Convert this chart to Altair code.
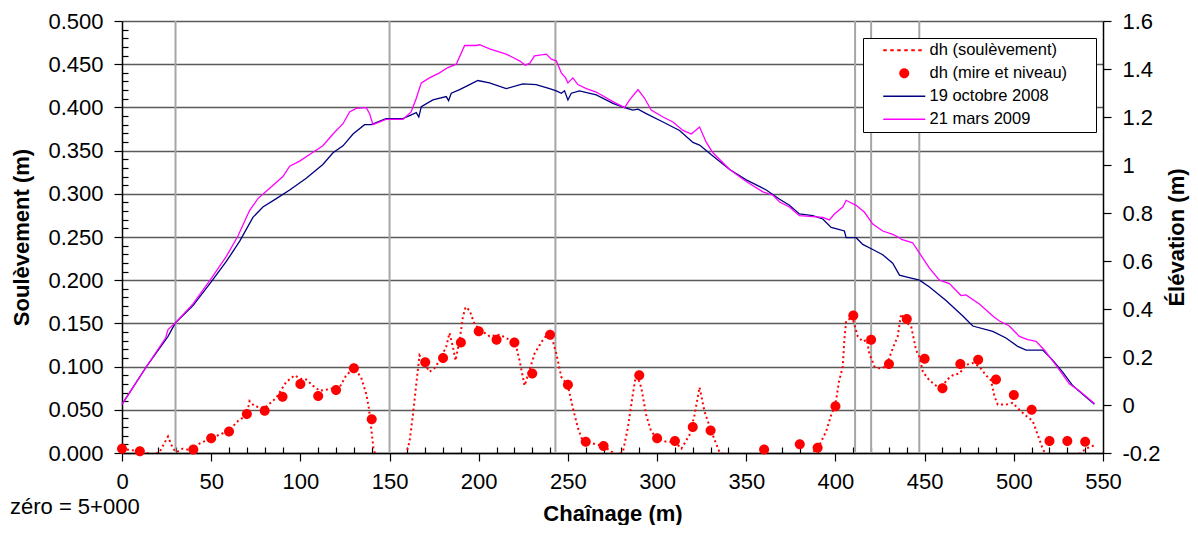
import altair as alt
import pandas as pd

FONT = "Liberation Sans"

# ---- data ----
# Elevation profile, 19 octobre 2008 (right axis)
oct_x = [0, 13.6, 25.8, 30, 39.8, 50, 58.5, 66, 73.4, 79, 86.5, 94, 103.3, 112.6, 118.3,
         123.9, 129.5, 136, 139.7, 148, 157.5, 165, 166.4, 167.8, 174.3, 181.8, 183.1, 184.6,
         189.3, 194.9, 199.5, 206, 215.4, 224.8, 232.2, 239.7, 243.5, 246.3, 248.1, 250,
         251.9, 256.5, 265.9, 275.2, 281.8, 286.4, 289.3, 293.9, 303.3, 312.6, 320.1, 323.8,
         331.3, 340.7, 350, 361.2, 368.7, 374.2, 379.8, 387.3, 392.9, 397.6, 401.3, 405, 406,
         411.6, 415.3, 420.9, 426.5, 432.1, 435.9, 439.6, 447.1, 452.7, 462, 471.4, 477,
         488.2, 495.6, 502.2, 506.9, 516.2, 521.8, 527.4, 533, 538.6, 545.2]
oct_y = [0.003, 0.159, 0.286, 0.343, 0.414, 0.513, 0.598, 0.683, 0.782, 0.825, 0.860, 0.896,
         0.945, 1.002, 1.051, 1.080, 1.129, 1.168, 1.168, 1.193, 1.193, 1.218, 1.200, 1.243,
         1.271, 1.285, 1.268, 1.299, 1.314, 1.335, 1.352, 1.342, 1.318, 1.338, 1.335, 1.318,
         1.309, 1.299, 1.309, 1.271, 1.299, 1.309, 1.292, 1.257, 1.239, 1.229, 1.233, 1.214,
         1.179, 1.144, 1.094, 1.083, 1.037, 0.981, 0.938, 0.896, 0.857, 0.832, 0.796, 0.789,
         0.775, 0.740, 0.733, 0.725, 0.697, 0.697, 0.669, 0.648, 0.626, 0.591, 0.541, 0.534,
         0.520, 0.492, 0.435, 0.371, 0.329, 0.307, 0.279, 0.244, 0.229, 0.229, 0.187, 0.137,
         0.081, 0.045, 0.003]

# Elevation profile, 21 mars 2009 (right axis)
mar_x = [0, 13.6, 24.5, 25.8, 30, 39.8, 50, 58.5, 65, 71.5, 76.2, 82.8, 90.2, 94, 99.6, 105.2,
         112.6, 118.3, 123.9, 127.6, 131.3, 137, 138.8, 140.7, 148, 157.5, 162.1, 165, 167.8,
         172.4, 178, 182.7, 187.4, 192.1, 198.6, 200.5, 206.1, 215.4, 219.2, 222.9, 226.1,
         228.5, 231.3, 237.9, 240.7, 243.5, 246.3, 248.7, 250, 252.8, 255.6, 260.3, 265.9,
         275.2, 281.8, 284.6, 289.3, 293, 296.7, 303.3, 308.9, 314.5, 319.2, 323.8, 327.6,
         331.3, 340.7, 350, 359.3, 365, 368.7, 374.2, 379.8, 387.3, 392.9, 396.6, 399.4,
         404.1, 406, 407.8, 411.6, 416.3, 420.9, 426.5, 432.1, 435.9, 437, 443.3, 447.1,
         452.7, 458.3, 463.9, 470.4, 473.2, 480.7, 488.2, 491.9, 497.5, 503.1, 507.8, 512.5,
         517.1, 523.6, 531.1, 536.7, 545.2]
mar_y = [0.003, 0.159, 0.28, 0.314, 0.343, 0.421, 0.527, 0.619, 0.704, 0.810, 0.860, 0.903,
         0.952, 0.995, 1.016, 1.044, 1.080, 1.129, 1.172, 1.221, 1.236, 1.239, 1.214, 1.168,
         1.190, 1.190, 1.221, 1.278, 1.342, 1.363, 1.384, 1.406, 1.420, 1.498, 1.498, 1.501,
         1.484, 1.462, 1.448, 1.434, 1.416, 1.423, 1.455, 1.462, 1.441, 1.434, 1.384, 1.363,
         1.342, 1.363, 1.335, 1.318, 1.304, 1.264, 1.239, 1.271, 1.314, 1.278, 1.229, 1.200,
         1.179, 1.144, 1.129, 1.158, 1.094, 1.051, 0.981, 0.931, 0.888, 0.874, 0.846, 0.825,
         0.789, 0.785, 0.782, 0.771, 0.796, 0.825, 0.853, 0.846, 0.832, 0.803, 0.754, 0.725,
         0.711, 0.697, 0.690, 0.676, 0.633, 0.570, 0.520, 0.506, 0.456, 0.459, 0.421, 0.371,
         0.350, 0.329, 0.286, 0.272, 0.265, 0.229, 0.166, 0.088, 0.059, 0.006]

# dh (soulèvement), dotted line (left axis)
dh_x = [0, 10, 17.4, 21, 25.8, 28.6, 30.5, 34, 39, 43.5, 50, 60, 65, 70, 71.5, 74.4, 80, 86.5,
        92, 96.8, 100, 103.3, 107, 110.8, 116.4, 122, 125.7, 130, 134, 137, 138.4, 139.7, 141,
        142.5, 146, 152, 157, 159.3, 161.2, 163.1, 165, 166.8, 168.7, 172.4, 175.2, 178, 181.8,
        183.6, 185.5, 187, 189.3, 191.1, 192.6, 194.9, 197.7, 200.5, 206.1, 211.7, 217.3, 221,
        222.9, 225.7, 228.5, 231.3, 236, 240, 243.5, 246.3, 250, 252.8, 255.6, 258.4, 264, 270,
        273.4, 277.1, 280.8, 283.6, 286.4, 288.3, 291.1, 293.9, 296.7, 300, 305.1, 310, 313.6,
        318.2, 321, 323.8, 326.6, 330.4, 335, 338.8, 345, 355, 365, 372, 378, 385.4, 391,
        394.8, 397.6, 400, 401.9, 404.1, 405, 406, 407.8, 410, 412.5, 415.3, 417.6, 419, 421.9,
        424.7, 428.4, 432.1, 434.9, 436.8, 439.6, 442.4, 445.2, 447.1, 449, 452.7, 456.4,
        459.2, 462, 465.8, 469.5, 473.2, 477, 480.7, 484.4, 487.2, 489.1, 491, 495.6, 499.4,
        503.1, 506.9, 510.6, 513.4, 516.2, 518.1, 525, 532, 536.7, 540.5, 545.2]
dh_y = [0.005, 0.002, -0.002, 0.001, 0.019, 0.005, 0.001, 0.005, 0.003, 0.011, 0.017, 0.026,
        0.037, 0.044, 0.060, 0.054, 0.052, 0.064, 0.082, 0.090, 0.086, 0.085, 0.078, 0.072,
        0.074, 0.076, 0.090, 0.098, 0.088, 0.068, 0.052, 0.029, 0.005, -0.005, -0.01, -0.01,
        -0.008, -0.001, 0.013, 0.044, 0.080, 0.113, 0.107, 0.094, 0.098, 0.107, 0.123, 0.139,
        0.123, 0.107, 0.131, 0.157, 0.169, 0.165, 0.149, 0.143, 0.135, 0.137, 0.131, 0.123,
        0.107, 0.078, 0.096, 0.115, 0.131, 0.141, 0.115, 0.088, 0.078, 0.052, 0.029, 0.013,
        0.011, 0.008, 0.003, -0.002, 0.001, 0.029, 0.068, 0.092, 0.076, 0.044, 0.025, 0.017,
        0.013, 0.013, 0.005, 0.021, 0.044, 0.076, 0.048, 0.025, 0.001, -0.003, -0.005, -0.006,
        -0.005, -0.006, -0.003, -0.004, 0.009, 0.025, 0.044, 0.056, 0.082, 0.100, 0.131,
        0.153, 0.155, 0.153, 0.135, 0.129, 0.131, 0.115, 0.100, 0.098, 0.100, 0.121, 0.135,
        0.161, 0.151, 0.147, 0.119, 0.111, 0.094, 0.084, 0.078, 0.070, 0.084, 0.090, 0.092,
        0.102, 0.104, 0.100, 0.090, 0.084, 0.066, 0.056, 0.056, 0.058, 0.050, 0.043, 0.037,
        0.021, 0.005, -0.003, -0.006, -0.005, -0.001, 0.005, 0.009]

# dh (mire et niveau), red dots (left axis)
pt_x = [0, 10, 40, 50, 60, 70, 80, 90, 100, 110, 120, 130, 140, 170, 180, 190, 200, 210, 220,
        230, 240, 250, 260, 270, 290, 300, 310, 320, 330, 360, 380, 390, 400, 410, 420, 430,
        440, 450, 460, 470, 480, 490, 500, 510, 520, 530, 540]
pt_y = [0.005, 0.002, 0.004, 0.017, 0.025, 0.045, 0.049, 0.065, 0.080, 0.066, 0.073, 0.098,
        0.039, 0.105, 0.110, 0.128, 0.141, 0.131, 0.128, 0.092, 0.137, 0.079, 0.013, 0.008,
        0.090, 0.017, 0.014, 0.030, 0.026, 0.004, 0.010, 0.006, 0.054, 0.159, 0.131, 0.103,
        0.155, 0.109, 0.075, 0.103, 0.108, 0.085, 0.067, 0.050, 0.014, 0.014, 0.013]

# vertical reference lines (chaînage, m)
grid_x = [30, 150, 243, 411, 420, 447]

series = ["dh (soulèvement)", "dh (mire et niveau)", "19 octobre 2008", "21 mars 2009"]
series_colors = ["#ff0000", "#ff0000", "#000080", "#ff00ff"]

x_ticks = list(range(0, 551, 10))
yl_ticks = [round(i * 0.01, 2) for i in range(51)]
yr_ticks = [round(-0.2 + i * 0.2, 1) for i in range(10)]

# ---- legend symbol shapes (SVG paths, unit = sqrt(size)/2) ----
def dash_path(n=6, half_len=2.625, half_th=0.125):
    period = 2 * half_len / n
    out = []
    for i in range(n):
        x0 = -half_len + i * period
        x1 = x0 + period / 2
        out.append(f"M{x0:.4f},{-half_th}H{x1:.4f}V{half_th}H{x0:.4f}Z")
    return "".join(out)

line_path = "M-2.625,-0.08H2.625V0.08H-2.625Z"
dot_path = "M-0.625,0A0.625,0.625,0,1,0,0.625,0A0.625,0.625,0,1,0,-0.625,0Z"
shapes = [dash_path(), dot_path, line_path, line_path]

oct_df = pd.DataFrame({"x": oct_x, "elev": oct_y})
mar_df = pd.DataFrame({"x": mar_x, "elev": mar_y})
dh_df = pd.DataFrame({"x": dh_x, "dh": dh_y})
pt_df = pd.DataFrame({"x": pt_x, "dh": pt_y, "serie": series[1]})
grid_df = pd.DataFrame({"x": grid_x})

# ---- scales & axes ----
x_scale = alt.Scale(domain=[0, 550], nice=False, zero=False)
yl_scale = alt.Scale(domain=[0, 0.5], nice=False)
yr_scale = alt.Scale(domain=[-0.2, 1.6], nice=False, zero=False)

major_x = "datum.value % 50 === 0"
x_axis = alt.Axis(
    values=x_ticks,
    labelExpr=f"{major_x} ? datum.label : ''",
    tickSize={"expr": f"{major_x} ? 8 : -6"},
    labelPadding=10, grid=False, labelOverlap=False, labelFlush=False,
    title="Chaînage (m)", titleY=67, titleBaseline="alphabetic",
)

major_l = "round(datum.value * 1000) % 50 === 0"
yl_axis = alt.Axis(
    values=yl_ticks,
    labelExpr=f"{major_l} ? format(datum.value, '.3f') : ''",
    tickSize={"expr": f"{major_l} ? 8 : -6"},
    grid=True, gridColor="#5a5a5a", gridWidth=1.5,
    gridOpacity={"expr": f"{major_l} ? 1 : 0"},
    labelPadding=11, labelOverlap=False, labelFlush=False,
    title="Soulèvement (m)", titleAngle=270, titleX=-94, titleY=216,
    titleAlign="center", titleBaseline="alphabetic",
)

yr_axis = alt.Axis(
    orient="right", values=yr_ticks, labelExpr="'' + datum.value",
    tickSize=8, labelPadding=11, grid=False, labelOverlap=False, labelFlush=False,
    title="Élévation (m)", titleAngle=270, titleX=80, titleY=216,
    titleAlign="center", titleBaseline="alphabetic",
)

# the invisible legend title on the right only widens the white box
legend = alt.Legend(
    title="x", titleOrient="right", titleOpacity=0, titleFontSize=8, titlePadding=20,
    orient="none", legendX=741, legendY=17, direction="vertical",
    fillColor="white", strokeColor="black", padding=4,
    symbolSize=256, symbolOffset=29, symbolStrokeWidth=0, symbolOpacity=1,
    labelOffset=17, rowPadding=6, labelFont=FONT, labelFontSize=16.5,
    labelColor="black", labelLimit=400,
)

X = alt.X("x:Q", scale=x_scale, axis=x_axis)

vrules = alt.Chart(grid_df).mark_rule(color="#a6a6a6", strokeWidth=2).encode(x=X)

dh_line = alt.Chart(dh_df).mark_line(
    color="#ff0000", strokeWidth=2, strokeDash=[2, 3], clip=True
).encode(x=X, y=alt.Y("dh:Q", scale=yl_scale, axis=yl_axis))

dots = alt.Chart(pt_df).mark_point(
    filled=True, opacity=1, size=256, strokeWidth=0
).encode(
    x=X,
    y=alt.Y("dh:Q", scale=yl_scale, axis=yl_axis),
    color=alt.Color("serie:N", scale=alt.Scale(domain=series, range=series_colors), legend=legend),
    shape=alt.Shape("serie:N", scale=alt.Scale(domain=series, range=shapes), legend=legend),
)

oct_line = alt.Chart(oct_df).mark_line(color="#000080", strokeWidth=1.3).encode(
    x=X, y=alt.Y("elev:Q", scale=yr_scale, axis=yr_axis))
mar_line = alt.Chart(mar_df).mark_line(color="#ff00ff", strokeWidth=1.3).encode(
    x=X, y=alt.Y("elev:Q", scale=yr_scale, axis=yr_axis))

left = alt.layer(vrules, dh_line, dots)
right = alt.layer(oct_line, mar_line)

chart = alt.layer(left, right).resolve_scale(y="independent").properties(
    width=981, height=432,
    padding={"left": 114, "top": 13, "right": 87, "bottom": 72},
    autosize=alt.AutoSizeParams(type="none"),
    background="white",
    title=alt.TitleParams(
        "zéro = 5+000", orient="bottom", anchor="start", frame="group",
        dx=-112, offset=-10, baseline="alphabetic",
        font=FONT, fontSize=22, fontWeight="normal", color="black",
    ),
).configure_axis(
    labelFont=FONT, labelFontSize=22, labelColor="black",
    titleFont=FONT, titleFontSize=22, titleFontWeight="bold", titleColor="black",
    domainColor="black", domainWidth=1.5, tickColor="black", tickWidth=1.2,
).configure_view(stroke=None)

chart.save("out.html", embed_options={"renderer": "svg", "actions": False})
